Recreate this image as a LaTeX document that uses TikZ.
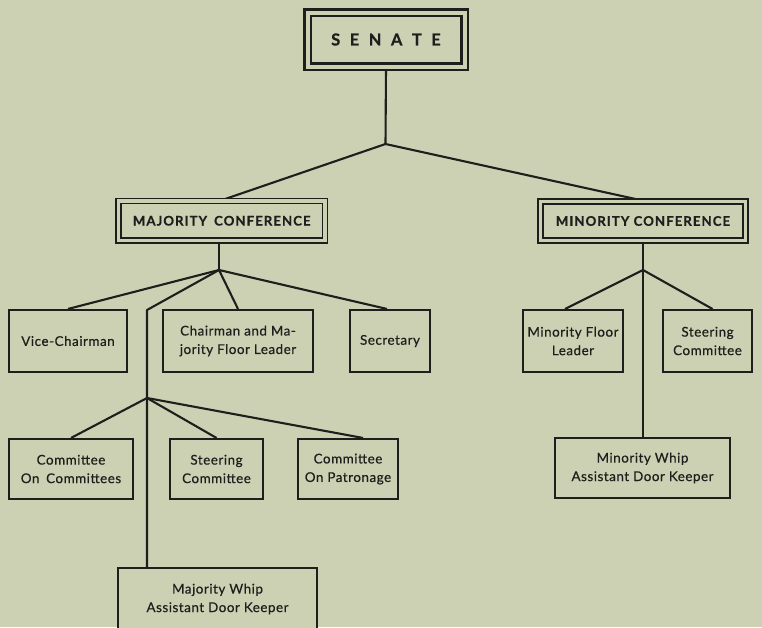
\documentclass[tikz,border=0pt]{standalone}
\usepackage{fontspec}
\setmainfont{Lato}
\usetikzlibrary{backgrounds,calc}
\definecolor{paper}{HTML}{CDD1B3}
\definecolor{ink}{HTML}{1E1E1C}
\newcommand{\boxfont}{\fontsize{13.4}{18.5}\selectfont\addfontfeature{LetterSpace=4,FakeBold=0.5}}
\begin{document}
\begin{tikzpicture}[x=1pt,y=-1pt,
  box/.style={draw=ink, line width=2.1pt, fill=paper, inner sep=0pt, align=center,
    font=\boxfont, text=ink},
  head/.style={draw=ink, line width=1.7pt, double=paper, double distance=3.4pt, fill=paper,
    inner sep=0pt, font=\bfseries\fontsize{13.2}{15}\selectfont\addfontfeature{LetterSpace=8,FakeBold=0.5}, text=ink},
  link/.style={draw=ink, line width=2.1pt, line join=round}]
\useasboundingbox (0,0) rectangle (762,627);
\clip (0,0) rectangle (762,627);

% top level
\node[head, line width=2.1pt, double distance=4pt, minimum width=157pt, minimum height=54pt,
  font=\bfseries\fontsize{16.5}{18}\selectfont\addfontfeature{FakeBold=0.5}] (sen) at (386,39.5)
  {S\hspace{9.5pt}E\hspace{9.5pt}N\hspace{9.5pt}A\hspace{9.5pt}T\hspace{9.5pt}E};

% conferences
\node[head, minimum width=206.5pt, minimum height=39.5pt] (maj) at (221.75,220.75) {MAJORITY\hspace{7pt}CONFERENCE};
\node[head, minimum width=205pt, minimum height=39pt] (min) at (643,221) {MINORITY CONFERENCE};

% majority second row
\node[box, minimum width=118pt, minimum height=62pt] (vc) at (68,341) {Vice-Chairman};
\node[box, minimum width=150pt, minimum height=62pt] (ch) at (238,341) {Chairman and Ma-\\jority Floor Leader};
\node[box, minimum width=80pt, minimum height=62pt] (sec) at (390,341) {Secretary};

% minority second row
\node[box, minimum width=100pt, minimum height=62pt] (mfl) at (573,341) {Minority Floor\\Leader};
\node[box, minimum width=89pt, minimum height=62pt] (stn) at (707.5,341) {Steering\\Committee};

% majority third row
\node[box, minimum width=124pt, minimum height=60pt] (coc) at (71,469) {Committee\\On\hspace{0.5em}Committees};
\node[box, minimum width=93pt, minimum height=60pt] (stm) at (216.5,469) {Steering\\Committee};
\node[box, minimum width=100pt, minimum height=60pt] (pat) at (348,469) {Committee\\On Patronage};

% minority whip
\node[box, minimum width=175pt, minimum height=60pt] (mnw) at (642.5,468) {Minority Whip\\Assistant Door Keeper};

% majority whip (cut off at bottom)
\node[box, minimum width=199pt, minimum height=90pt] (mjw) at (217.5,613) {};
\node[font=\boxfont, text=ink, align=center, inner sep=0pt]
  (mjwt) at (217.5,599) {Majority Whip\\Assistant Door Keeper};

% junctions
\coordinate (j0) at (385.5,144);
\coordinate (j1) at (219,270);
\coordinate (bend) at (147,310);
\coordinate (j2) at (147,398);
\coordinate (j3) at (643,270);

\begin{scope}[on background layer]
  \fill[paper] (0,0) rectangle (762,627);
  \draw[link] (sen.south) -- (j0);
  \draw[link] (j0) -- (maj.north);
  \draw[link] (j0) -- (min.north);
  \draw[link] (j1 |- maj.south) -- (j1);
  \draw[link] (j1) -- (vc.north);
  \draw[link] (j1) -- (ch.north);
  \draw[link] (j1) -- ($(sec.north)+(-3,0)$);
  \draw[link] (j1) -- (bend) -- (bend |- mjw.north);
  \draw[link] (j2) -- (coc.north);
  \draw[link] (j2) -- (stm.north);
  \draw[link] (j2) -- ($(pat.north)+(15,0)$);
  \draw[link] (j3 |- min.south) -- (j3) -- (j3 |- mnw.north);
  \draw[link] (j3) -- ($(mfl.north)+(-8,0)$);
  \draw[link] (j3) -- ($(stn.north)+(5,0)$);
\end{scope}
\end{tikzpicture}
\end{document}
